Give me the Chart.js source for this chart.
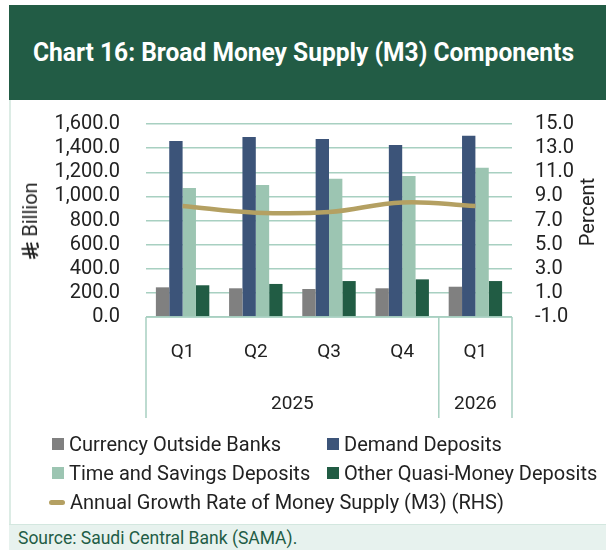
<!DOCTYPE html>
<html>
<head>
<meta charset="utf-8">
<script src="https://cdn.jsdelivr.net/npm/chart.js@4.4.1/dist/chart.umd.min.js"></script>
<style>
  html, body { margin: 0; padding: 0; background: #ffffff; }
  body { width: 606px; height: 550px; position: relative; overflow: hidden; font-family: Roboto, "Noto Sans", sans-serif; color: #222; }
  #band { position: absolute; left: 9px; top: 5px; width: 597px; height: 95px; background: #225c45; }
  #title { position: absolute; left: 33px; top: 36px; font-weight: 700; font-size: 26px; line-height: 32px; color: #fff; white-space: nowrap; transform-origin: 0 50%; }
  #panelBorder { position: absolute; left: 9px; top: 100px; width: 2px; height: 424px; background: #dcece5; }
  #source { position: absolute; left: 9px; top: 524px; width: 597px; height: 26px; background: #e7f2ee; border-top: 1px solid #d3e7df; box-sizing: border-box; }
  #sourceText { position: absolute; left: 18px; top: 527px; font-size: 17.5px; line-height: 22px; color: #1f5d46; white-space: nowrap; }
  #chartWrap { position: absolute; left: 0; top: 100px; width: 606px; height: 330px; }
  .ytitle { position: absolute; white-space: nowrap; font-size: 20px; line-height: 22px; color: #222; transform: translate(-50%, -50%) rotate(-90deg); display: flex; align-items: center; gap: 5px; }
  #legend { position: absolute; left: 0; top: 0; width: 606px; height: 550px; pointer-events: none; }
  .li { position: absolute; font-size: 20px; line-height: 24px; white-space: nowrap; color: #222; }
  .sw { position: absolute; }
</style>
</head>
<body>
<div id="band"></div>
<div id="title">Chart 16: Broad Money Supply (M3) Components</div>
<div id="panelBorder"></div>
<div id="chartWrap"><canvas id="c" width="606" height="330"></canvas></div>
<div class="ytitle" id="leftTitle" style="left:30px; top:221px;"><svg width="18" height="18" viewBox="0 0 20 20"><g fill="none" stroke="#222" stroke-width="2.2" stroke-linecap="butt"><path d="M6.5 1.5 V15.5 Q6.5 17.5 4 18.5"/><path d="M12 0.5 V17.5"/><path d="M1 10.5 L19 6.5"/><path d="M1 15 L19 11"/><path d="M13 19.2 L19 17.8"/></g></svg><span>Billion</span></div>
<div class="ytitle" id="rightTitle" style="left:587px; top:212px;">Percent</div>
<div id="legend"></div>
<div id="source"></div>
<div id="sourceText">Source: Saudi Central Bank (SAMA).</div>
<script>
// ---- Data ----
const categories = ['Q1', 'Q2', 'Q3', 'Q4', 'Q1'];
const years = ['2025', '2025', '2025', '2025', '2026'];
const currencyOutsideBanks = [246, 238, 232, 238, 251];
const demandDeposits = [1459, 1492, 1476, 1426, 1503];
const timeSavingsDeposits = [1069, 1094, 1147, 1169, 1238];
const otherQuasiMoneyDeposits = [263, 274, 298, 312, 298];
const m3GrowthRate = [8.2, 7.65, 7.7, 8.5, 8.2];
const leftTickValues = [0, 200, 400, 600, 800, 1000, 1200, 1400, 1600];
const rightTickValues = [-1, 1, 3, 5, 7, 9, 11, 13, 15];
const seriesNames = ['Currency Outside Banks', 'Demand Deposits', 'Time and Savings Deposits', 'Other Quasi-Money Deposits', 'Annual Growth Rate of Money Supply (M3) (RHS)'];

// ---- Styles ----
const colors = ['#808080', '#3c5479', '#9cc5b2', '#215c44', '#b4a062'];
const gridColor = '#a8d0c1';
const FONT = 'Roboto';

// fit title width
(function(){
  const t = document.getElementById('title');
  const w = t.getBoundingClientRect().width;
  t.style.transform = 'scaleX(' + (541 / w) + ')';
})();

const fmtLeft = v => Number(v).toLocaleString('en-US', {minimumFractionDigits: 1, maximumFractionDigits: 1});
const fmtRight = v => Number(v).toFixed(1);

const xBoxPlugin = {
  id: 'xBox',
  afterDraw(chart) {
    const ctx = chart.ctx, xs = chart.scales.x, ca = chart.chartArea;
    const n = categories.length;
    const half = (xs.getPixelForValue(1) - xs.getPixelForValue(0)) / 2;
    const yBottom = ca.bottom + 101;
    ctx.save();
    ctx.strokeStyle = gridColor;
    ctx.lineWidth = 1.5;
    ctx.beginPath();
    ctx.moveTo(ca.left, ca.bottom); ctx.lineTo(ca.right, ca.bottom);
    const bounds = [xs.getPixelForValue(0) - half];
    for (let i = 1; i < n; i++) if (years[i] !== years[i - 1]) bounds.push(xs.getPixelForValue(i) - half);
    bounds.push(xs.getPixelForValue(n - 1) + half);
    bounds.forEach(b => { ctx.moveTo(b, ca.bottom); ctx.lineTo(b, yBottom); });
    ctx.stroke();
    ctx.fillStyle = '#222';
    ctx.font = '19px ' + FONT;
    ctx.textAlign = 'center';
    ctx.textBaseline = 'middle';
    let start = 0;
    for (let i = 1; i <= n; i++) {
      if (i === n || years[i] !== years[start]) {
        const cx = (xs.getPixelForValue(start) + xs.getPixelForValue(i - 1)) / 2;
        ctx.fillText(years[start], cx, ca.bottom + 87);
        start = i;
      }
    }
    ctx.restore();
  }
};

const datasets = [
  { type: 'line', label: seriesNames[4], data: m3GrowthRate, yAxisID: 'y1', borderColor: colors[4], backgroundColor: colors[4], borderWidth: 4.5, pointRadius: 0, tension: 0.4, order: 0 },
  { type: 'bar', label: seriesNames[0], data: currencyOutsideBanks, yAxisID: 'y', backgroundColor: colors[0], order: 1 },
  { type: 'bar', label: seriesNames[1], data: demandDeposits, yAxisID: 'y', backgroundColor: colors[1], order: 1 },
  { type: 'bar', label: seriesNames[2], data: timeSavingsDeposits, yAxisID: 'y', backgroundColor: colors[2], order: 1 },
  { type: 'bar', label: seriesNames[3], data: otherQuasiMoneyDeposits, yAxisID: 'y', backgroundColor: colors[3], order: 1 }
];

new Chart(document.getElementById('c'), {
  data: { labels: categories, datasets },
  options: {
    responsive: false,
    animation: false,
    devicePixelRatio: 1,
    layout: { padding: { left: 55, right: 32, top: 24, bottom: 12 } },
    datasets: { bar: { categoryPercentage: 0.73, barPercentage: 1.0, borderWidth: 0 } },
    plugins: { legend: { display: false }, tooltip: { enabled: false } },
    scales: {
      x: {
        grid: { display: false, drawTicks: false },
        border: { display: false },
        ticks: { color: '#222', font: { family: FONT, size: 19 }, padding: 24, maxRotation: 0, autoSkip: false },
        afterFit(s) { s.height = 101; s.paddingLeft = 0; s.paddingRight = 0; }
      },
      y: {
        position: 'left',
        min: 0, max: 1600,
        afterBuildTicks(s) { s.ticks = leftTickValues.map(v => ({ value: v })); },
        grid: { color: gridColor, lineWidth: 1.5, drawTicks: false },
        border: { display: false },
        ticks: { color: '#222', font: { family: FONT, size: 20 }, padding: 26, autoSkip: false, callback: v => fmtLeft(v) },
        afterFit(s) { s.width = 91; s.paddingTop = 0; s.paddingBottom = 0; }
      },
      y1: {
        position: 'right',
        min: -1, max: 15,
        afterBuildTicks(s) { s.ticks = rightTickValues.map(v => ({ value: v })); },
        grid: { display: false, drawTicks: false },
        border: { display: false },
        ticks: { color: '#222', font: { family: FONT, size: 20 }, padding: 23, autoSkip: false, callback: v => fmtRight(v) },
        afterFit(s) { s.width = 62; s.paddingTop = 0; s.paddingBottom = 0; }
      }
    }
  },
  plugins: [xBoxPlugin]
});

// ---- HTML legend built from the series ----
(function(){
  const lg = document.getElementById('legend');
  const items = [
    { i: 0, x: 52, y: 444, kind: 'box' },
    { i: 1, x: 327, y: 444, kind: 'box' },
    { i: 2, x: 52, y: 473, kind: 'box' },
    { i: 3, x: 327, y: 473, kind: 'box' },
    { i: 4, x: 49, y: 502, kind: 'line' }
  ];
  items.forEach(it => {
    const sw = document.createElement('div');
    sw.className = 'sw';
    if (it.kind === 'box') {
      sw.style.cssText = 'left:' + it.x + 'px;top:' + (it.y - 6) + 'px;width:12px;height:12px;background:' + colors[it.i] + ';';
    } else {
      sw.style.cssText = 'left:' + it.x + 'px;top:' + (it.y - 2) + 'px;width:16px;height:5px;border-radius:3px;background:' + colors[it.i] + ';';
    }
    lg.appendChild(sw);
    const t = document.createElement('div');
    t.className = 'li';
    t.textContent = seriesNames[it.i];
    t.style.left = (it.x + (it.kind === 'box' ? 17 : 21)) + 'px';
    t.style.top = (it.y - 12) + 'px';
    lg.appendChild(t);
  });
})();
</script>
</body>
</html>
